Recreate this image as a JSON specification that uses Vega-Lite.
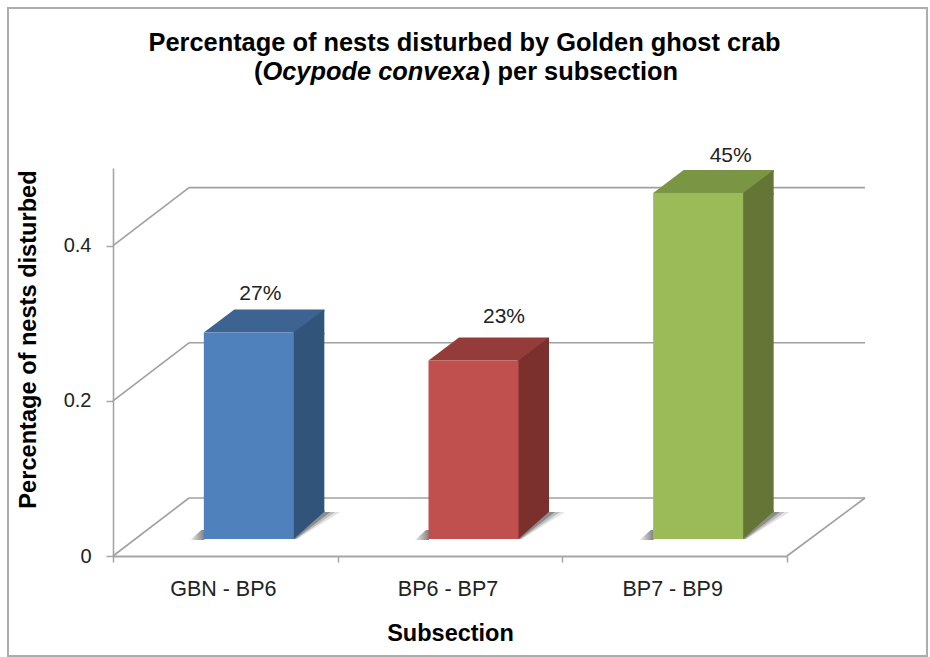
{
"$schema":"https://vega.github.io/schema/vega-lite/v6.json",
"width":919,"height":648,
"autosize":"none",
"padding":{"left":8,"top":8,"right":3,"bottom":1},
"background":"white",
"view":{"stroke":"#adadad","strokeWidth":2,"fill":"white"},
"config":{"font":"Liberation Sans"},
"title":{"text":"Percentage of nests disturbed by Golden ghost crab","font":"Liberation Sans","fontSize":25.4,"fontWeight":"bold","color":"#000000","anchor":"middle","dx":-3,"dy":52,"frame":"group"},
"datasets":{
"bars":[{"subsection":"GBN - BP6","disturbed":0.266,"label":"27%","base":0},{"subsection":"BP6 - BP7","disturbed":0.23,"label":"23%","base":0},{"subsection":"BP7 - BP9","disturbed":0.446,"label":"45%","base":0}],
"ticks":[{"tick":0},{"tick":0.2},{"tick":0.4}]
},
"layer":[
{"data":{"name":"ticks"},"mark":{"type":"point","shape":"M-278.5 -58H397.5","size":4,"filled":false,"stroke":"#a0a0a0","strokeWidth":1.6,"opacity":1},
 "encoding":{"y":{"field":"tick","type":"quantitative","scale":{"domain":[0,0.5],"range":[548,160]},
   "axis":{"values":[0,0.2,0.4],"format":"~g","offset":-105,"title":"Percentage of nests disturbed","titleFont":"Liberation Sans","titleFontSize":23.6,"titleFontWeight":"bold","titleColor":"#000000","titleX":-85,"titleY":331,"titleBaseline":"middle","titleAnchor":"middle","labelFont":"Liberation Sans","labelFontSize":20,"labelColor":"#222222","labelPadding":15,"tickSize":7,"tickColor":"#a6a6a6","tickWidth":1.5,"domainColor":"#a6a6a6","domainWidth":1.6,"grid":false}}}},
{"data":{"name":"ticks"},"mark":{"type":"point","shape":"M-354.5 0L-278.5 -58","size":4,"filled":false,"stroke":"#a0a0a0","strokeWidth":1.6,"opacity":1},
 "encoding":{"y":{"field":"tick","type":"quantitative"}}},
{"data":{"name":"ticks"},"transform":[{"filter":"datum.tick === 0"}],"mark":{"type":"point","shape":"M319.5 0L397.5 -58","size":4,"filled":false,"stroke":"#a0a0a0","strokeWidth":1.6,"opacity":1},
 "encoding":{"y":{"field":"tick","type":"quantitative"}}},
{"data":{"name":"bars"},"mark":{"type":"point","shape":"M-35 -16L-24 -26L-21 -26L-21 -16Z","size":4,"filled":true,"opacity":1,"fill":{"gradient":"linear","x1":0,"x2":1,"y1":0,"y2":0,"stops":[{"offset":0,"color":"#eeeeee"},{"offset":1,"color":"#808080"}]}},
 "encoding":{"x":{"field":"subsection","type":"nominal","sort":null},"y":{"field":"base","type":"quantitative"}}},
{"data":{"name":"bars"},"mark":{"type":"point","shape":"M68 -17L99 -44L115 -44L72 -17Z","size":4,"filled":true,"opacity":1,"fill":"#e4e4e4"},
 "encoding":{"x":{"field":"subsection","type":"nominal","sort":null},"y":{"field":"base","type":"quantitative"}}},
{"data":{"name":"bars"},"mark":{"type":"point","shape":"M68 -17L99 -44L110 -44L71 -17Z","size":4,"filled":true,"opacity":1,"fill":"#bdbdbd"},
 "encoding":{"x":{"field":"subsection","type":"nominal","sort":null},"y":{"field":"base","type":"quantitative"}}},
{"data":{"name":"bars"},"mark":{"type":"point","shape":"M68 -17L99 -44L105 -44L70 -17Z","size":4,"filled":true,"opacity":1,"fill":"#8c8c8c"},
 "encoding":{"x":{"field":"subsection","type":"nominal","sort":null},"y":{"field":"base","type":"quantitative"}}},
{"data":{"name":"bars"},"mark":{"type":"point","shape":"M-21.5 -17L75 -17L99 -38L99 -40L9 -40Z","size":4,"filled":true,"opacity":1},
 "encoding":{"x":{"field":"subsection","type":"nominal","sort":null},"y":{"field":"disturbed","type":"quantitative"},"color":{"field":"subsection","type":"nominal","sort":null,"legend":null,"scale":{"domain":["GBN - BP6","BP6 - BP7","BP7 - BP9"],"range":["#3d6392","#943c39","#7a9544"]}}}},
{"data":{"name":"bars"},"mark":{"type":"bar","width":31.5,"xOffset":83.25,"yOffset":-17,"y2Offset":-44},
 "encoding":{"x":{"field":"subsection","type":"nominal","sort":null},"y":{"field":"disturbed","type":"quantitative"},"y2":{"field":"base"},"color":{"field":"subsection","type":"nominal","sort":null,"legend":null,"scale":{"domain":["GBN - BP6","BP6 - BP7","BP7 - BP9"],"range":["#31547a","#7b302e","#647535"]}}}},
{"data":{"name":"bars"},"mark":{"type":"point","shape":"M68.5 -17L99 -40L99 -15L67 -15L67 -17Z","size":4,"filled":true,"opacity":1},
 "encoding":{"x":{"field":"subsection","type":"nominal","sort":null},"y":{"field":"disturbed","type":"quantitative"},"color":{"field":"subsection","type":"nominal","sort":null,"legend":null,"scale":{"domain":["GBN - BP6","BP6 - BP7","BP7 - BP9"],"range":["#31547a","#7b302e","#647535"]}}}},
{"data":{"name":"bars"},"mark":{"type":"point","shape":"M68.5 -17L99 -44L99 -46L67 -46L67 -17Z","size":4,"filled":true,"opacity":1},
 "encoding":{"x":{"field":"subsection","type":"nominal","sort":null},"y":{"field":"base","type":"quantitative"},"color":{"field":"subsection","type":"nominal","sort":null,"legend":null,"scale":{"domain":["GBN - BP6","BP6 - BP7","BP7 - BP9"],"range":["#31547a","#7b302e","#647535"]}}}},
{"data":{"name":"bars"},"mark":{"type":"bar","width":90,"xOffset":23.5,"yOffset":-17,"y2Offset":-17},
 "encoding":{"x":{"field":"subsection","type":"nominal","sort":null,"scale":{"domain":["GBN - BP6","BP6 - BP7","BP7 - BP9"],"range":[105,779],"paddingInner":0,"paddingOuter":0},
   "axis":{"offset":-100,"title":"Subsection","titleFont":"Liberation Sans","titleFontSize":23.5,"titleFontWeight":"bold","titleColor":"#000000","titleX":442,"titleY":77,"titleBaseline":"middle","titleAnchor":"middle","labelFont":"Liberation Sans","labelFontSize":21.5,"labelColor":"#222222","labelAngle":0,"labelAlign":"center","labelOffset":-2.5,"labelPadding":27,"tickBand":"extent","tickSize":6,"tickColor":"#a6a6a6","tickWidth":1.5,"domainColor":"#a6a6a6","domainWidth":1.8,"grid":false}},
  "y":{"field":"disturbed","type":"quantitative"},"y2":{"field":"base"},"color":{"field":"subsection","type":"nominal","sort":null,"legend":null,"scale":{"domain":["GBN - BP6","BP6 - BP7","BP7 - BP9"],"range":["#4f81bd","#c0504d","#9bbb59"]}}}},
{"data":{"name":"bars"},"transform":[{"filter":"datum.label === '27%'"}],"mark":{"type":"text","fontSize":21,"font":"Liberation Sans","color":"#222222","dx":35,"dy":-56},
 "encoding":{"x":{"field":"subsection","type":"nominal","sort":null},"y":{"field":"disturbed","type":"quantitative"},"text":{"field":"label"}}},
{"data":{"name":"bars"},"transform":[{"filter":"datum.label === '23%'"}],"mark":{"type":"text","fontSize":21,"font":"Liberation Sans","color":"#222222","dx":54,"dy":-61},
 "encoding":{"x":{"field":"subsection","type":"nominal","sort":null},"y":{"field":"disturbed","type":"quantitative"},"text":{"field":"label"}}},
{"data":{"name":"bars"},"transform":[{"filter":"datum.label === '45%'"}],"mark":{"type":"text","fontSize":21,"font":"Liberation Sans","color":"#222222","dx":56,"dy":-54},
 "encoding":{"x":{"field":"subsection","type":"nominal","sort":null},"y":{"field":"disturbed","type":"quantitative"},"text":{"field":"label"}}},
{"data":{"values":[{"part":"("}]},"mark":{"type":"text","font":"Liberation Sans","fontSize":25.4,"fontWeight":"bold","color":"#000000","align":"left","baseline":"middle","x":246,"y":64},"encoding":{"text":{"field":"part"}}},
{"data":{"values":[{"part":"Ocypode convexa"}]},"mark":{"type":"text","font":"Liberation Sans","fontSize":25.4,"fontWeight":"bold","fontStyle":"italic","color":"#000000","align":"left","baseline":"middle","x":254.5,"y":64},"encoding":{"text":{"field":"part"}}},
{"data":{"values":[{"part":") per subsection"}]},"mark":{"type":"text","font":"Liberation Sans","fontSize":25.4,"fontWeight":"bold","color":"#000000","align":"left","baseline":"middle","x":474,"y":64},"encoding":{"text":{"field":"part"}}}
],
"resolve":{"scale":{"color":"independent"}}
}
